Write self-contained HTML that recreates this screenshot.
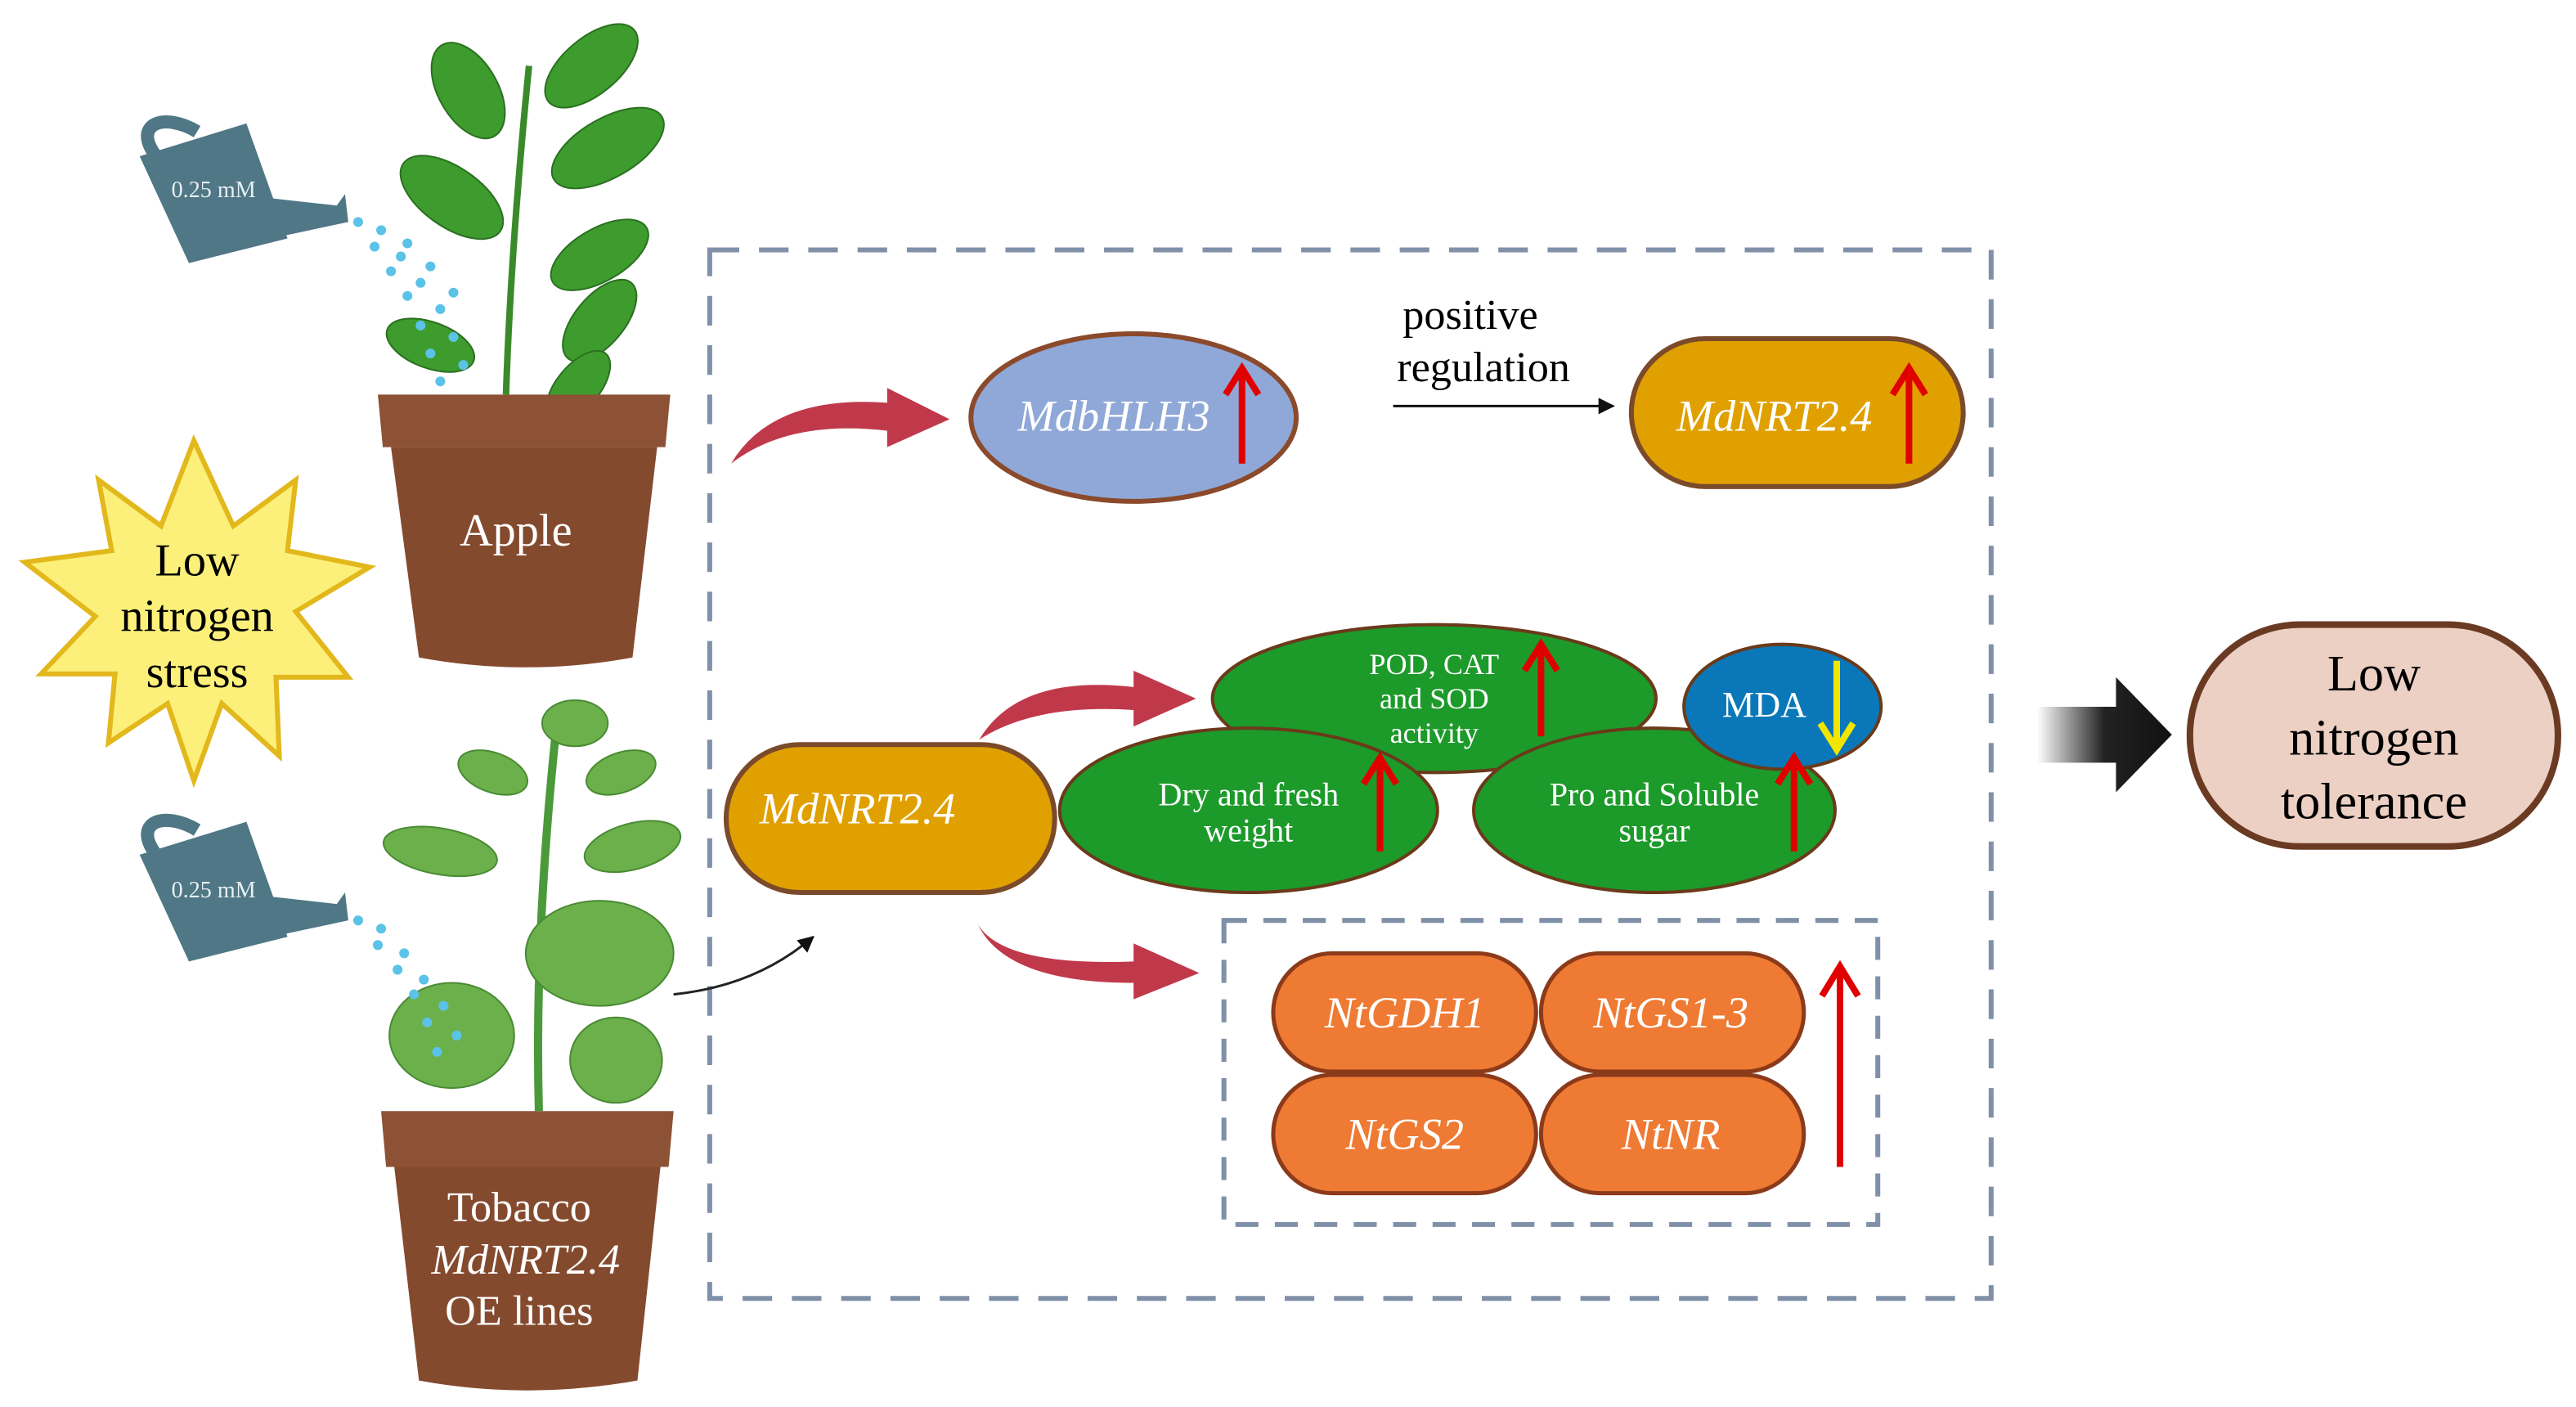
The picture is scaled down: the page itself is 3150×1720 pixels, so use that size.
<!DOCTYPE html>
<html><head><meta charset="utf-8"><style>
html,body{margin:0;padding:0;background:#fff;}
svg{display:block;font-family:"Liberation Serif","Times New Roman",serif;}
svg text{font-family:"Liberation Serif","Times New Roman",serif !important;}
</style></head><body>
<svg width="3150" height="1720" viewBox="0 0 1568 856" xmlns="http://www.w3.org/2000/svg" font-family="Liberation Serif, serif">
<defs>
<marker id="bk" markerWidth="10" markerHeight="10" refX="9" refY="5" orient="auto" markerUnits="userSpaceOnUse"><path d="M0,0 L10,5 L0,10 z" fill="#111"/></marker>
<linearGradient id="ba" x1="0" x2="1"><stop offset="0" stop-color="#fff"/><stop offset="0.5" stop-color="#222"/><stop offset="1" stop-color="#111"/></linearGradient>
</defs>
<rect width="1568" height="856" fill="#fff"/>
<rect x="432" y="152" width="780" height="638" fill="none" stroke="#8090a8" stroke-width="3" stroke-dasharray="18,12"/>
<rect x="745" y="560" width="398" height="185" fill="none" stroke="#8090a8" stroke-width="3" stroke-dasharray="14,10"/>

<polygon fill="#fdf07a" stroke="#e2b81c" stroke-width="3" points="118,268 142,320 180,292 175,335 225,345 180,372 212,412 168,412 170,460 135,428 118,475 102,428 66,452 70,410 25,410 58,375 15,342 68,335 60,292 98,320"/>
<text x="120" y="350" font-size="28" text-anchor="middle">Low</text>
<text x="120" y="384" font-size="28" text-anchor="middle">nitrogen</text>
<text x="120" y="418" font-size="28" text-anchor="middle">stress</text>

<path d="M308,240 C310,180 315,110 322,40" stroke="#3a8a2a" stroke-width="4" fill="none"/>
<g fill="#3e9b2e" stroke="#2a7020" stroke-width="1">
<ellipse cx="285" cy="55" rx="18" ry="32" transform="rotate(-30 285 55)"/>
<ellipse cx="360" cy="40" rx="17" ry="34" transform="rotate(50 360 40)"/>
<ellipse cx="370" cy="90" rx="18" ry="38" transform="rotate(60 370 90)"/>
<ellipse cx="275" cy="120" rx="18" ry="36" transform="rotate(-55 275 120)"/>
<ellipse cx="365" cy="155" rx="16" ry="33" transform="rotate(60 365 155)"/>
<ellipse cx="365" cy="195" rx="15" ry="30" transform="rotate(40 365 195)"/>
<ellipse cx="262" cy="210" rx="14" ry="28" transform="rotate(-70 262 210)"/>
<ellipse cx="352" cy="235" rx="13" ry="26" transform="rotate(40 352 235)"/>
</g>
<g fill="#5bc2e8">
<circle cx="218" cy="135" r="3"/><circle cx="228" cy="150" r="3"/><circle cx="238" cy="165" r="3"/><circle cx="248" cy="180" r="3"/><circle cx="256" cy="198" r="3"/><circle cx="262" cy="215" r="3"/><circle cx="268" cy="232" r="3"/>
<circle cx="232" cy="140" r="3"/><circle cx="244" cy="156" r="3"/><circle cx="256" cy="172" r="3"/><circle cx="268" cy="188" r="3"/><circle cx="276" cy="205" r="3"/><circle cx="282" cy="222" r="3"/>
<circle cx="248" cy="148" r="3"/><circle cx="262" cy="162" r="3"/><circle cx="276" cy="178" r="3"/>
</g>
<path d="M85,95 L150,75 L175,145 L115,160 Z" fill="#4f7785"/>
<path d="M95,95 C80,75 100,68 120,80" stroke="#4f7785" stroke-width="8" fill="none"/>
<path d="M160,120 L205,125 L210,118 L212,135 L165,145 Z" fill="#4f7785"/>
<text x="130" y="120" font-size="14" fill="#e8f0f4" text-anchor="middle">0.25 mM</text>
<path d="M230,240 L408,240 L405,272 L233,272 Z" fill="#8d5236"/>
<path d="M238,272 L400,272 L385,400 Q320,412 255,400 Z" fill="#844a2e"/>
<text x="314" y="332" font-size="28" fill="#fff" text-anchor="middle">Apple</text>

<path d="M328,676 C326,600 330,520 340,430" stroke="#4a9a3a" stroke-width="5" fill="none"/>
<g fill="#6cb04c" stroke="#4a8a34" stroke-width="1">
<ellipse cx="350" cy="440" rx="20" ry="14"/>
<ellipse cx="300" cy="470" rx="22" ry="12" transform="rotate(20 300 470)"/>
<ellipse cx="378" cy="470" rx="22" ry="12" transform="rotate(-20 378 470)"/>
<ellipse cx="268" cy="518" rx="35" ry="14" transform="rotate(10 268 518)"/>
<ellipse cx="385" cy="515" rx="30" ry="14" transform="rotate(-15 385 515)"/>
<ellipse cx="365" cy="580" rx="45" ry="32"/>
<ellipse cx="275" cy="630" rx="38" ry="32"/>
<ellipse cx="375" cy="645" rx="28" ry="26"/>
</g>
<g fill="#5bc2e8">
<circle cx="218" cy="560" r="3"/><circle cx="230" cy="575" r="3"/><circle cx="242" cy="590" r="3"/><circle cx="252" cy="605" r="3"/><circle cx="260" cy="622" r="3"/><circle cx="266" cy="640" r="3"/>
<circle cx="232" cy="565" r="3"/><circle cx="246" cy="580" r="3"/><circle cx="258" cy="596" r="3"/><circle cx="270" cy="612" r="3"/><circle cx="278" cy="630" r="3"/>
</g>
<path d="M85,520 L150,500 L175,570 L115,585 Z" fill="#4f7785"/>
<path d="M95,520 C80,500 100,493 120,505" stroke="#4f7785" stroke-width="8" fill="none"/>
<path d="M160,545 L205,550 L210,543 L212,560 L165,570 Z" fill="#4f7785"/>
<text x="130" y="546" font-size="14" fill="#e8f0f4" text-anchor="middle">0.25 mM</text>
<path d="M232,676 L410,676 L407,710 L235,710 Z" fill="#8d5236"/>
<path d="M240,710 L402,710 L388,840 Q320,852 255,840 Z" fill="#844a2e"/>
<text x="316" y="743" font-size="26" fill="#fff" text-anchor="middle">Tobacco</text>
<text x="320" y="775" font-size="26" fill="#fff" text-anchor="middle" font-style="italic">MdNRT2.4</text>
<text x="316" y="806" font-size="26" fill="#fff" text-anchor="middle">OE lines</text>
<path d="M410,605 Q460,600 495,570" stroke="#222" stroke-width="1.5" fill="none" marker-end="url(#bk)"/>

<g fill="#c0394a">
<path d="M445,282 Q470,240 540,245 L540,236 L578,255 L540,272 L540,262 Q480,255 445,282 Z"/>
<path d="M596,450 Q620,410 690,418 L690,408 L728,425 L690,442 L690,432 Q630,428 596,450 Z"/>
<path d="M595,562 Q610,588 690,585 L690,574 L730,592 L690,608 L690,598 Q612,598 595,562 Z"/>
</g>

<ellipse cx="690" cy="254" rx="99" ry="51" fill="#8fa8d8" stroke="#8b4a2b" stroke-width="3"/>
<text x="678" y="262" font-size="27" fill="#fff" text-anchor="middle" font-style="italic">MdbHLH3</text>
<text x="895" y="200" font-size="26" text-anchor="middle">positive</text>
<text x="903" y="232" font-size="26" text-anchor="middle">regulation</text>
<line x1="848" y1="247" x2="982" y2="247" stroke="#111" stroke-width="1.5" marker-end="url(#bk)"/>
<rect x="993" y="206" width="202" height="90" rx="45" fill="#e0a000" stroke="#7a4a2a" stroke-width="3"/>
<text x="1080" y="262" font-size="27" fill="#fff" text-anchor="middle" font-style="italic">MdNRT2.4</text>

<rect x="442" y="453" width="200" height="90" rx="45" fill="#e0a000" stroke="#7a4a2a" stroke-width="3"/>
<text x="522" y="501" font-size="27" fill="#fff" text-anchor="middle" font-style="italic">MdNRT2.4</text>

<ellipse cx="873" cy="425" rx="135" ry="45" fill="#1c9a2a" stroke="#6a3a1a" stroke-width="2"/>
<ellipse cx="760" cy="493" rx="115" ry="50" fill="#1c9a2a" stroke="#6a3a1a" stroke-width="2"/>
<ellipse cx="1007" cy="493" rx="110" ry="50" fill="#1c9a2a" stroke="#6a3a1a" stroke-width="2"/>
<ellipse cx="1085" cy="430" rx="60" ry="38" fill="#0a78b8" stroke="#6a3a1a" stroke-width="2"/>
<g fill="#fff" font-size="18" text-anchor="middle">
<text x="873" y="410">POD, CAT</text><text x="873" y="431">and SOD</text><text x="873" y="452">activity</text>
<text x="760" y="490" font-size="20">Dry and fresh</text><text x="760" y="512" font-size="20">weight</text>
<text x="1007" y="490" font-size="20">Pro and Soluble</text><text x="1007" y="512" font-size="20">sugar</text>
<text x="1074" y="436" font-size="22">MDA</text>
</g>

<g fill="#ee7a33" stroke="#8b3a1a" stroke-width="2.5">
<rect x="775" y="580" width="160" height="72" rx="36"/>
<rect x="938" y="580" width="160" height="72" rx="36"/>
<rect x="775" y="654" width="160" height="72" rx="36"/>
<rect x="938" y="654" width="160" height="72" rx="36"/>
</g>
<g fill="#fff" font-size="27" text-anchor="middle" font-style="italic">
<text x="855" y="625">NtGDH1</text><text x="1017" y="625">NtGS1-3</text>
<text x="855" y="699">NtGS2</text><text x="1017" y="699">NtNR</text>
</g>

<g stroke="#e00000" stroke-width="4" fill="none">
<path d="M756,282 V228 M746,240 L756,224 L766,240"/>
<path d="M1162,282 V228 M1152,240 L1162,224 L1172,240"/>
<path d="M938,448 V396 M928,408 L938,392 L948,408"/>
<path d="M840,518 V465 M830,477 L840,461 L850,477"/>
<path d="M1092,518 V465 M1082,477 L1092,461 L1102,477"/>
<path d="M1120,710 V592 M1109,606 L1120,588 L1131,606"/>
<path d="M1526,488 V410 M1515,424 L1526,406 L1537,424"/>
</g>
<path d="M1118,402 V452 M1108,440 L1118,456 L1128,440" stroke="#f2e600" stroke-width="4" fill="none"/>

<path d="M1240,430 L1288,430 L1288,412 L1322,447 L1288,482 L1288,464 L1240,464 Z" fill="url(#ba)"/>

<rect x="1333" y="380" width="224" height="135" rx="67" fill="#ecd0c4" stroke="#6b3a22" stroke-width="4"/>
<g font-size="31" text-anchor="middle">
<text x="1445" y="420">Low</text><text x="1445" y="459">nitrogen</text><text x="1445" y="498">tolerance</text>
</g>
</svg>
</body></html>
